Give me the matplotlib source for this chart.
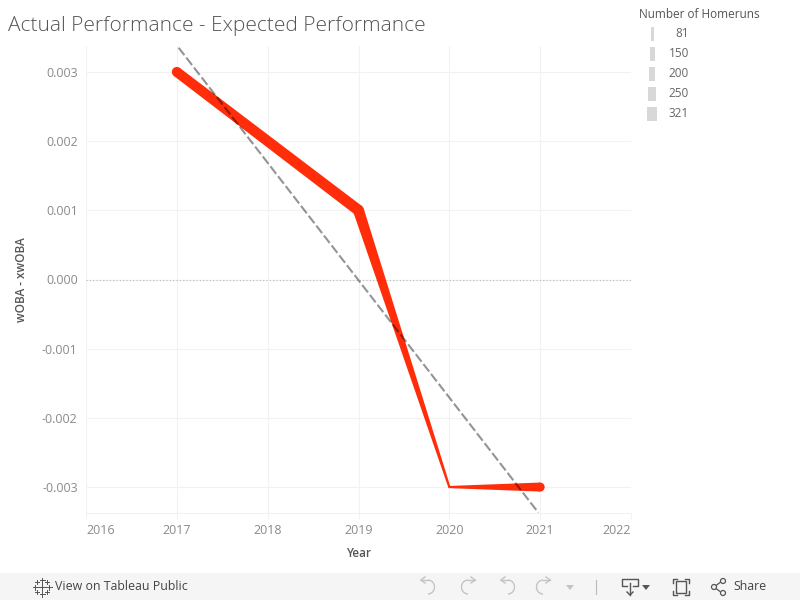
import numpy as np
import matplotlib
matplotlib.use('Agg')
import matplotlib.pyplot as plt
from matplotlib.patches import Rectangle, Arc, Circle, Polygon
from matplotlib.transforms import IdentityTransform

years = [2017, 2019, 2020, 2021]
woba_diff = [0.003, 0.001, -0.003, -0.003]
width_px = [10, 11, 2.2, 9]  # sized by homeruns in the original

trend_years = [2017.02, 2020.98]
trend_values = [0.00335, -0.00337]

xticks = [2016, 2017, 2018, 2019, 2020, 2021, 2022]
yticks = [0.003, 0.002, 0.001, 0.0, -0.001, -0.002, -0.003]
ytick_labels = ['0.003', '0.002', '0.001', '0.000', '-0.001', '-0.002', '-0.003']

legend_labels = ['81', '150', '200', '250', '321']
legend_widths = [3, 5, 6, 8, 10]

plt.rcParams['font.family'] = ['Open Sans', 'DejaVu Sans']
RED = '#ff2d0a'
GRID = '#f2f2f2'
TICK = '#8a8a8a'

W, H = 800, 600
fig = plt.figure(figsize=(8, 6), dpi=100)
ax = fig.add_axes([86 / W, 1 - 513 / H, 545 / W, 467 / H])
ax.set_xlim(2016, 2022)
ax.set_ylim(-0.003375, 0.003375)

ax.set_xticks(xticks)
ax.set_yticks(yticks)
ax.set_yticklabels(ytick_labels)
ax.grid(True, color=GRID, lw=0.8)
ax.set_axisbelow(True)
for s in ['top', 'right', 'left']:
    ax.spines[s].set_visible(False)
ax.spines['bottom'].set_color(GRID)
ax.tick_params(axis='x', length=4, color=GRID, labelcolor=TICK, labelsize=9, pad=4)
ax.tick_params(axis='y', length=0, labelcolor=TICK, labelsize=9, pad=6)
labels = ax.get_xticklabels()
labels[0].set_ha('left')
labels[-1].set_ha('right')

ax.axhline(0, color='#bbbbbb', lw=0.8, ls=(0, (1, 2)))

# tapered line, each segment is a polygon in pixels so the width can change along it
pts = ax.transData.transform(np.column_stack([years, woba_diff]))
for i in range(len(years) - 1):
    p0, p1 = pts[i], pts[i + 1]
    d = (p1 - p0) / np.hypot(*(p1 - p0))
    n = np.array([-d[1], d[0]])
    r0, r1 = width_px[i] / 2, width_px[i + 1] / 2
    ax.add_patch(Polygon([p0 + n * r0, p1 + n * r1, p1 - n * r1, p0 - n * r0], closed=True,
                         fc=RED, lw=0, transform=IdentityTransform(), zorder=3))
for p, w in zip(pts, width_px):
    ax.add_patch(Circle(p, w / 2, fc=RED, lw=0, transform=IdentityTransform(), zorder=3))

ax.plot(trend_years, trend_values, color='black', alpha=0.42, lw=1.5,
        ls=(0, (4.5, 1.5)), zorder=4)

ax.set_xlabel('Year', fontsize=8.5, color='#555555', fontweight='semibold', labelpad=7)
ax.set_ylabel('wOBA - xwOBA', fontsize=8.5, color='#555555', fontweight='semibold', labelpad=10)

fig.text(8 / W, 1 - 26 / H, 'Actual Performance - Expected Performance', fontsize=15,
         color='#555555', va='center', ha='left', fontweight='light')

# overlay in pixel coordinates for the legend and the footer strip
ov = fig.add_axes([0, 0, 1, 1], zorder=5)
ov.set_xlim(0, W)
ov.set_ylim(H, 0)
ov.axis('off')
ov.patch.set_alpha(0)

ov.text(639, 14, 'Number of Homeruns', fontsize=8.5, color='#555555', va='center', ha='left')
for i, (lab, w) in enumerate(zip(legend_labels, legend_widths)):
    yc = 33.5 + i * 20
    ov.add_patch(Rectangle((652 - w / 2, yc - 7), w, 14, color='#d8d8d8', lw=0))
    ov.text(689, yc, lab, fontsize=8.5, color='#666666', va='center', ha='right')

ov.add_patch(Rectangle((0, 573), W, 27, color='#f5f5f5', lw=0))
ov.text(55, 587, 'View on Tableau Public', fontsize=8.9, color='#444444', va='center', ha='left')
ov.text(733, 587, 'Share', fontsize=8.9, color='#444444', va='center', ha='left')

# tableau logo
for cx, cy, r in [(42, 587, 4), (42, 580, 2.5), (42, 594, 2.5), (35, 587, 2.5), (49, 587, 2.5),
                  (37, 582, 2), (47, 582, 2), (37, 592, 2), (47, 592, 2)]:
    ov.plot([cx - r, cx + r], [cy, cy], color='#555555', lw=0.7)
    ov.plot([cx, cx], [cy - r, cy + r], color='#555555', lw=0.7)

# undo / redo icons
ICON = '#c4c4c4'
for x0, flip in [(428, 1), (468, -1), (508, 1), (543, -1)]:
    ov.add_patch(Arc((x0, 587), 13, 14, theta1=-90, theta2=90, angle=0 if flip > 0 else 180,
                     color=ICON, lw=1))
    ov.plot([x0 - 7 * flip, x0], [580, 580], color=ICON, lw=1)
    ov.plot([x0 - 7 * flip, x0 - 3 * flip], [580, 577], color=ICON, lw=1)
    ov.plot([x0 - 7 * flip, x0 - 3 * flip], [580, 583], color=ICON, lw=1)
ov.fill([566, 574, 570], [585, 585, 590], color=ICON, lw=0)
ov.plot([596, 596], [580, 594], color='#bbbbbb', lw=0.8)

# download, fit, share icons
DARK = '#555555'
ov.plot([627, 622, 622, 638, 638, 633], [586, 586, 579, 579, 586, 586], color=DARK, lw=1)
ov.plot([630, 630], [583, 595], color=DARK, lw=1)
ov.plot([627, 630, 633], [592, 595, 592], color=DARK, lw=1)
ov.fill([642, 650, 646], [585, 585, 590], color=DARK, lw=0)
ov.add_patch(Rectangle((676, 581), 10, 12, fill=False, ec=DARK, lw=1))
ov.plot([673, 673, 677], [583, 579, 579], color=DARK, lw=1)
ov.plot([685, 689, 689], [579, 579, 583], color=DARK, lw=1)
ov.plot([673, 673, 677], [591, 595, 595], color=DARK, lw=1)
ov.plot([685, 689, 689], [595, 595, 591], color=DARK, lw=1)
ov.plot([722, 714, 722], [581, 587, 593], color=DARK, lw=0.9)
for cx, cy in [(723, 581), (714, 587), (723, 593)]:
    ov.add_patch(Circle((cx, cy), 2.5, fc='#f5f5f5', ec=DARK, lw=0.9, zorder=3))

fig.savefig('out.png', dpi=100)
